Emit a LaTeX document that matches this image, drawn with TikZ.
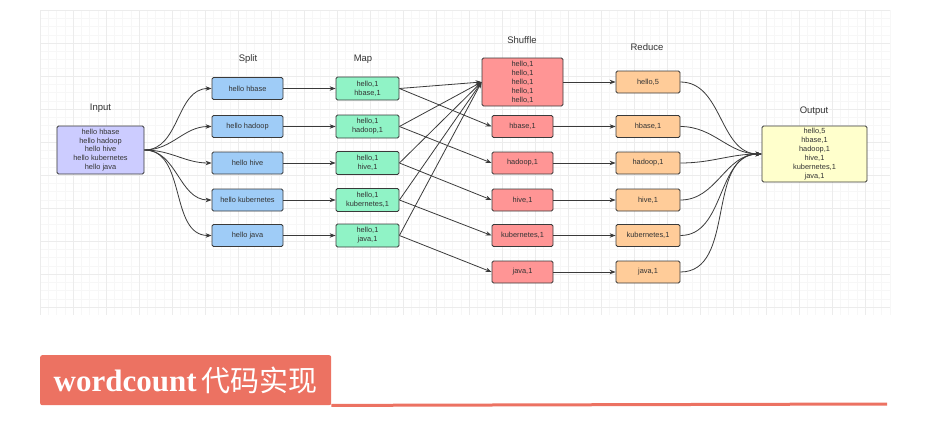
\documentclass[tikz,border=0pt]{standalone}
\usepackage{fontspec}
\setmainfont{Liberation Sans}
\newfontfamily\headfont{Liberation Serif}
\newfontfamily\cjk{Noto Sans CJK SC}
\usepackage{tikz}
\usetikzlibrary{arrows.meta, positioning}
\definecolor{boxline}{HTML}{3A3A3A}
\definecolor{textgray}{HTML}{333333}
\definecolor{gridminor}{HTML}{F7F7F7}
\definecolor{gridmajor}{HTML}{ECECEC}
\definecolor{inputc}{HTML}{CCCCFF}
\definecolor{splitc}{HTML}{9FCCF7}
\definecolor{mapc}{HTML}{90F3C6}
\definecolor{shufc}{HTML}{FF9595}
\definecolor{redc}{HTML}{FFCC99}
\definecolor{outc}{HTML}{FFFFCC}
\definecolor{headc}{HTML}{EC7262}

\begin{document}
\begin{tikzpicture}[x=1pt, y=-1pt,
  box/.style={draw=boxline, line width=0.8pt, rounded corners=1.5pt, align=center,
    inner sep=1pt, text=textgray, font=\fontsize{7.4}{8.9}\selectfont},
  stage/.style={text=textgray, font=\fontsize{9.5}{11}\selectfont},
  arr/.style={draw=boxline, line width=0.8pt, -{Stealth[length=6pt, width=4.5pt]}}]
  \useasboundingbox (0,0) rectangle (942,423);
  % background grid
  \foreach \gx in {40,48.25,...,890}
    \draw[gridminor, line width=0.5pt] (\gx,10) -- (\gx,315);
  \foreach \gy in {10,18.25,...,315}
    \draw[gridminor, line width=0.5pt] (40,\gy) -- (890,\gy);
  \foreach \gx in {40,73,...,890}
    \draw[gridmajor, line width=0.6pt] (\gx,10) -- (\gx,315);
  \foreach \gy in {10,43,...,315}
    \draw[gridmajor, line width=0.6pt] (40,\gy) -- (890,\gy);

  % stage titles
  \node[stage] (tin) at (100.5,108) {Input};
  \node[stage] (tsplit) at (248,59) {Split};
  \node[stage] (tmap) at (363,59) {Map};
  \node[stage] (tshuf) at (522,40) {Shuffle};
  \node[stage] (tred) at (647,47) {Reduce};
  \node[stage] (tout) at (814,111) {Output};

  % input and output
  \node[box, fill=inputc, minimum width=87, minimum height=48] (in) at (100.5,150)
    {hello hbase\\hello hadoop\\hello hive\\hello kubernetes\\hello java};
  \node[box, fill=outc, minimum width=105, minimum height=56] (out) at (814.5,154)
    {hello,5\\hbase,1\\hadoop,1\\hive,1\\kubernetes,1\\java,1};

  % split and map
  \foreach \i/\y/\w in {1/88.5/hbase, 2/126.5/hadoop, 3/163/hive, 4/200/kubernetes, 5/235.5/java}{
    \node[box, fill=splitc, minimum width=71, minimum height=22] (s\i) at (247.5,\y) {hello \w};
    \node[box, fill=mapc, minimum width=63, minimum height=23] (m\i) at (367.5,\y) {hello,1\\\w,1};
  }

  % shuffle and reduce
  \node[box, fill=shufc, minimum width=81, minimum height=48] (sh0) at (522.5,82)
    {hello,1\\hello,1\\hello,1\\hello,1\\hello,1};
  \node[box, fill=redc, minimum width=64, minimum height=22] (r0) at (648,82) {hello,5};
  \foreach \i/\y/\w in {1/126.5/hbase, 2/163/hadoop, 3/200/hive, 4/235.5/kubernetes, 5/272/java}{
    \node[box, fill=shufc, minimum width=61, minimum height=22] (sh\i) at (522.5,\y) {\w,1};
    \node[box, fill=redc, minimum width=64, minimum height=22] (r\i) at (648,\y) {\w,1};
  }

  % connectors
  \foreach \i in {1,...,5}{
    \draw[arr] (in.east) to[out=0, in=180] (s\i.west);
    \draw[arr] (s\i) -- (m\i);
    \draw[arr] (m\i.east) -- (sh0.west);
    \draw[arr] (m\i.east) -- (sh\i.west);
  }
  \foreach \i in {0,...,5}{
    \draw[arr] (sh\i) -- (r\i);
    \draw[arr] (r\i.east) to[out=0, in=180] (out.west);
  }

  % heading
  \node[fill=headc, rounded corners=2pt, minimum width=291, minimum height=50,
    anchor=north west, inner sep=0pt, text=white] (head) at (40,355)
    {\headfont\bfseries\fontsize{31}{33}\selectfont wordcount\hspace{5pt}{\cjk\mdseries\fontsize{29}{33}\selectfont 代码实现}};
  \coordinate (lineend) at (887,404);
  \draw[headc, line width=3pt] (head.south east) -- (lineend);
\end{tikzpicture}
\end{document}
